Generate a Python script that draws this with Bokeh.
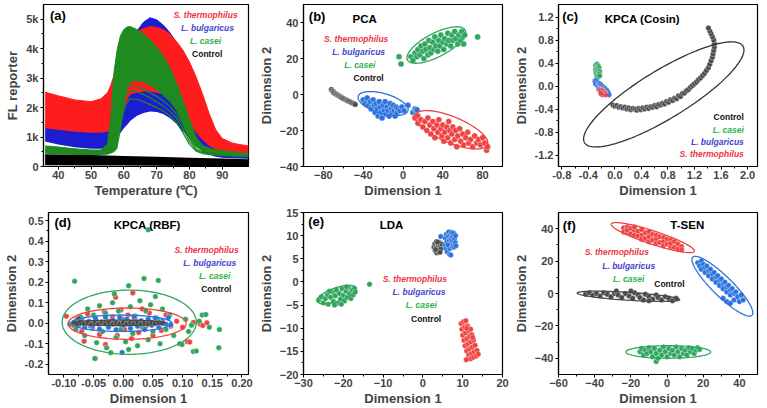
import numpy as np
from bokeh.plotting import figure
from bokeh.layouts import column, row
from bokeh.models import Label, FixedTicker, Range1d, NumeralTickFormatter
from bokeh.embed import file_html
from bokeh.resources import INLINE

# ---------------- DATA ----------------
species = ["S. thermophilus", "L. bulgaricus", "L. casei", "Control"]

# (a) melt curves: envelopes of the curve bundles (FL reporter vs temperature)
temp = [36, 40, 45, 50, 53, 55, 56, 57, 58, 59, 60, 61, 62, 64, 66, 68, 70, 72, 74, 76, 78, 80, 82, 84, 86, 88, 90, 93, 95, 98]
st_hi = [2520, 2400, 2260, 2200, 2300, 2500, 2750, 3100, 3500, 3800, 4050, 4250, 4400, 4550, 4680, 4750, 4720, 4650, 4500, 4250, 3950, 3550, 3050, 2450, 1800, 1250, 950, 800, 750, 700]
st_lo = [1300, 1250, 1180, 1150, 1150, 1180, 1220, 1300, 1450, 1700, 2000, 2250, 2450, 2500, 2550, 2550, 2500, 2450, 2350, 2150, 1850, 1450, 1150, 900, 700, 580, 500, 470, 450, 430]
lb_hi = [1420, 1360, 1300, 1260, 1280, 1400, 1700, 2200, 2800, 3300, 3700, 4000, 4250, 4600, 4900, 5050, 4980, 4800, 4550, 4200, 3800, 3300, 2700, 2000, 1400, 900, 600, 450, 400, 380]
lb_lo = [850, 750, 650, 600, 600, 620, 650, 800, 1000, 1150, 1300, 1420, 1550, 1720, 1820, 1870, 1850, 1780, 1650, 1450, 1200, 950, 700, 500, 400, 330, 300, 280, 270, 260]
lc_hi = [700, 660, 600, 560, 560, 760, 1600, 3200, 4000, 4450, 4650, 4740, 4750, 4650, 4500, 4300, 4050, 3750, 3350, 2850, 2250, 1600, 1000, 720, 620, 570, 540, 500, 470, 440]
lc_lo = [450, 440, 420, 410, 410, 420, 440, 480, 600, 1200, 2000, 2600, 2850, 2900, 2850, 2750, 2600, 2400, 2200, 1900, 1450, 950, 650, 520, 460, 430, 410, 390, 380, 370]
lc_low1 = [450, 440, 420, 410, 410, 430, 470, 600, 900, 1400, 1900, 2200, 2300, 2280, 2200, 2100, 2000, 1880, 1720, 1500, 1150, 750, 520, 440, 410, 390, 380, 360, 350, 340]
lc_low2 = [500, 480, 460, 450, 450, 480, 560, 800, 1300, 1900, 2300, 2500, 2560, 2540, 2450, 2330, 2200, 2050, 1880, 1650, 1300, 850, 560, 460, 420, 400, 390, 370, 360, 350]
lc_low3 = [560, 540, 520, 500, 500, 560, 700, 1100, 1700, 2200, 2550, 2700, 2750, 2720, 2620, 2500, 2380, 2230, 2050, 1800, 1420, 950, 600, 480, 440, 420, 400, 380, 370, 360]
ctrl_temp = [36, 50, 60, 70, 80, 90, 98]
ctrl_hi = [420, 390, 360, 330, 300, 270, 250]
ctrl_lo = [40, 35, 30, 25, 20, 15, 10]

# (b) PCA scores
pca_st = [(12,-13),(15,-16),(15,-12),(18,-14),(20,-18),(22,-15),(24,-20),(25,-13),(27,-17),(28,-22),(30,-15),(31,-19),(32,-24),(34,-17),(35,-21),(36,-14),(38,-19),(39,-23),(40,-17),(41,-26),(42,-21),(44,-18),(45,-24),(46,-15),(47,-20),(48,-27),(49,-22),(50,-18),(52,-25),(53,-20),(54,-29),(55,-23),(57,-19),(58,-26),(60,-22),(61,-28),(63,-24),(65,-21),(66,-27),(68,-25),(70,-29),(72,-23),(74,-27),(76,-25),(78,-28),(80,-24),(82,-27),(84,-31),(85,-29)]
pca_lb = [(-40,-3),(-38,-5),(-36,-2),(-35,-6),(-33,-4),(-32,-8),(-30,-3),(-29,-6),(-28,-10),(-27,-5),(-26,-8),(-25,-12),(-24,-4),(-23,-7),(-22,-10),(-21,-13),(-20,-6),(-19,-9),(-18,-4),(-17,-11),(-16,-7),(-15,-9),(-14,-12),(-13,-5),(-12,-8),(-11,-10),(-10,-6),(-9,-9),(-8,-12),(-7,-7),(-6,-10),(-5,-8),(-3,-9),(-1,-7),(1,-9),(5,-6),(10,-10),(12,-8),(13,-9),(14,-8.5),(13,-12)]
pca_lc = [(-4,21),(-2,17),(8,21),(10,19),(12,23),(14,21),(15,25),(17,22),(18,27),(20,24),(21,20),(22,28),(23,25),(25,22),(26,30),(27,26),(28,23),(30,29),(31,25),(32,32),(33,27),(35,24),(36,30),(37,27),(38,33),(40,29),(41,25),(42,31),(44,28),(45,34),(46,30),(48,27),(49,33),(50,30),(52,35),(53,31),(55,28),(56,33),(58,30),(59,35),(60,32),(62,33),(61,28),(75,32)]
pca_ctrl = [(-72,2.8),(-71,2.0),(-70,1.6),(-69.5,0.9),(-68,0.6),(-67,0.1),(-66,-0.3),(-65,-0.6),(-64,-0.8),(-63,-1.3),(-62,-1.5),(-61,-1.9),(-60,-2.2),(-58.5,-2.6),(-57,-3.0),(-56,-3.3),(-55,-3.6),(-53.5,-4.0),(-52,-4.4),(-50.5,-4.8),(-49,-5.2),(-48,-5.5)]
pca_ell = {"st": ((12.5,-11.3),(85,-27.9),0.33), "lb": ((-45,-1),(5,-9),0.38), "lc": ((4.5,19.2),(62.4,35.8),0.36)}

# (c) KPCA (Cosin) scores
kc_ctrl = [(-0.03,-0.33),(0.0,-0.35),(0.03,-0.34),(0.06,-0.37),(0.09,-0.36),(0.12,-0.38),(0.15,-0.37),(0.18,-0.40),(0.21,-0.38),(0.24,-0.41),(0.27,-0.39),(0.30,-0.40),(0.33,-0.42),(0.36,-0.39),(0.39,-0.41),(0.42,-0.38),(0.45,-0.40),(0.48,-0.37),(0.51,-0.39),(0.54,-0.36),(0.57,-0.37),(0.60,-0.34),(0.63,-0.36),(0.66,-0.32),(0.69,-0.33),(0.72,-0.30),(0.75,-0.31),(0.78,-0.27),(0.81,-0.28),(0.84,-0.24),(0.87,-0.25),(0.90,-0.21),(0.93,-0.22),(0.96,-0.17),(0.99,-0.18),(1.02,-0.13),(1.05,-0.12),(1.08,-0.08),(1.11,-0.06),(1.14,-0.02),(1.17,0.01),(1.20,0.04),(1.23,0.07),(1.26,0.11),(1.29,0.14),(1.32,0.18),(1.35,0.22),(1.38,0.27),(1.41,0.32),(1.43,0.38),(1.45,0.44),(1.47,0.50),(1.48,0.56),(1.49,0.62),(1.50,0.68),(1.50,0.74),(1.49,0.80),(1.47,0.86),(1.45,0.91),(1.43,0.96),(1.41,1.01)]
kc_lc = [(-0.29,0.36),(-0.27,0.38),(-0.25,0.35),(-0.28,0.32),(-0.26,0.30),(-0.24,0.32),(-0.29,0.28),(-0.27,0.26),(-0.25,0.27),(-0.23,0.25),(-0.28,0.22),(-0.26,0.20),(-0.24,0.21),(-0.27,0.17),(-0.25,0.16),(-0.23,0.18)]
kc_lb = [(-0.30,0.09),(-0.28,0.10),(-0.27,0.06),(-0.29,0.04),(-0.25,0.05),(-0.26,0.01),(-0.24,0.02),(-0.23,-0.01),(-0.22,0.03),(-0.21,-0.03),(-0.20,0.00),(-0.19,-0.05),(-0.18,-0.02),(-0.17,-0.07),(-0.16,-0.04),(-0.15,-0.09),(-0.14,-0.06),(-0.13,-0.11),(-0.12,-0.08),(-0.11,-0.13),(-0.10,-0.12),(-0.09,-0.15),(-0.24,-0.06),(-0.21,-0.10)]
kc_st = [(-0.23,-0.06),(-0.22,-0.09),(-0.21,-0.07),(-0.20,-0.11),(-0.19,-0.08),(-0.18,-0.13),(-0.17,-0.10),(-0.16,-0.14),(-0.15,-0.12),(-0.14,-0.15),(-0.19,-0.15),(-0.21,-0.13)]
kc_ell = {"ctrl": ((-0.457,-0.986),(1.931,0.695),0.26), "lb": ((-0.31,0.09),(-0.08,-0.16),0.35), "st": ((-0.24,-0.06),(-0.12,-0.16),0.4)}

# (d) KPCA (RBF) scores
kr_ctrl = [(-0.083,0.003),(-0.078,-0.004),(-0.075,0.022),(-0.072,0.006),(-0.066,-0.002),(-0.060,0.004),(-0.054,-0.005),(-0.048,0.002),(-0.042,-0.003),(-0.036,0.005),(-0.030,-0.001),(-0.024,0.003),(-0.018,-0.004),(-0.012,0.002),(-0.006,-0.002),(0.000,0.004),(0.006,-0.003),(0.012,0.002),(0.018,-0.001),(0.024,0.004),(0.030,-0.003),(0.036,0.002),(0.042,-0.002),(0.048,0.003),(0.054,-0.001),(0.060,0.002),(0.066,0.000)]
kr_lb = [(-0.080,0.005),(-0.075,-0.010),(-0.070,0.015),(-0.065,-0.020),(-0.058,0.010),(-0.052,-0.015),(-0.047,0.025),(-0.040,-0.028),(-0.035,0.005),(-0.030,0.030),(-0.025,-0.020),(-0.018,0.015),(-0.012,-0.032),(-0.006,0.028),(0.000,-0.010),(0.006,0.020),(0.012,-0.025),(0.018,0.032),(0.024,-0.015),(0.030,0.012),(0.036,-0.030),(0.042,0.020),(0.048,-0.010),(0.054,0.025),(0.060,-0.020),(0.066,0.010),(0.072,-0.005),(0.076,0.028),(0.080,-0.008),(-0.002,-0.143)]
kr_st = [(-0.096,0.034),(-0.085,-0.010),(-0.078,0.020),(-0.070,-0.040),(-0.066,-0.088),(-0.060,0.045),(-0.052,-0.025),(-0.045,0.010),(-0.047,-0.172),(-0.040,-0.055),(-0.032,0.055),(-0.030,-0.104),(-0.025,-0.015),(-0.018,0.030),(-0.013,0.127),(-0.010,-0.060),(-0.004,0.065),(0.002,-0.030),(0.008,0.040),(0.014,-0.075),(0.016,0.148),(0.020,0.020),(0.026,-0.045),(0.032,0.070),(0.038,-0.015),(0.044,0.050),(0.050,-0.060),(0.056,0.025),(0.064,-0.035),(0.072,0.040),(0.080,-0.015),(0.090,0.010),(0.100,-0.020),(0.108,-0.090),(0.112,-0.092),(0.118,0.004),(0.126,0.005),(0.130,-0.005),(0.134,-0.011),(0.141,0.002)]
kr_lc = [(-0.082,0.205),(-0.090,-0.005),(-0.080,-0.030),(-0.072,0.030),(-0.065,-0.060),(-0.060,0.070),(-0.055,-0.015),(-0.050,0.040),(-0.048,-0.172),(-0.045,-0.095),(-0.040,0.085),(-0.035,-0.040),(-0.030,0.050),(-0.028,-0.120),(-0.025,0.010),(-0.021,-0.144),(-0.018,0.100),(-0.015,0.143),(-0.012,-0.070),(-0.008,0.060),(-0.004,-0.030),(0.000,0.020),(0.004,-0.090),(0.009,0.183),(0.009,-0.128),(0.012,0.080),(0.016,-0.050),(0.020,0.035),(0.024,-0.110),(0.028,0.110),(0.032,-0.020),(0.035,0.218),(0.038,0.060),(0.042,0.456),(0.042,-0.080),(0.046,0.090),(0.050,-0.040),(0.054,0.130),(0.059,0.209),(0.058,0.020),(0.062,-0.100),(0.066,0.070),(0.072,-0.030),(0.078,0.040),(0.085,-0.060),(0.095,-0.100),(0.099,-0.104),(0.105,0.020),(0.110,-0.040),(0.115,-0.010),(0.118,-0.138),(0.123,-0.136),(0.128,0.010),(0.133,0.040),(0.139,0.042),(0.145,-0.020),(0.162,-0.031),(0.161,-0.120)]
kr_ell = {"lc": ((-0.103,0.005),(0.123,0.005),0.47), "st": ((-0.093,-0.002),(0.106,-0.002),0.26), "lb": ((-0.088,0.0),(0.082,0.0),0.16), "ctrl": ((-0.085,0.002),(0.071,0.002),0.057)}

# (e) LDA scores
lda_lc = [(-26.2,-3.9),(-25.5,-3.2),(-25.0,-4.5),(-24.5,-3.6),(-24.0,-2.8),(-23.8,-4.8),(-23.2,-3.3),(-22.8,-2.2),(-22.5,-4.2),(-22.0,-3.0),(-21.7,-1.8),(-21.5,-4.6),(-21.0,-2.5),(-20.7,-3.7),(-20.3,-1.5),(-20.0,-2.9),(-19.7,-4.1),(-19.3,-2.0),(-19.0,-3.3),(-18.7,-1.2),(-18.4,-2.5),(-18.1,-3.6),(-17.8,-1.7),(-17.5,-2.8),(-17.2,-1.4),(-17.0,-2.2),(-23.5,-2.0),(-22.2,-5.0),(-20.5,-4.8),(-19.2,-1.1),(-13.4,-0.5)]
lda_ctrl = [(2.8,7.5),(3.0,8.2),(3.1,6.8),(3.3,7.6),(3.4,8.7),(3.5,6.3),(3.6,7.2),(3.8,8.0),(3.9,6.6),(4.0,7.4),(4.1,8.5),(4.2,6.9),(4.4,7.8),(4.5,7.1),(4.7,8.2),(3.2,7.0),(3.7,8.6),(4.3,6.4)]
lda_lb = [(4.5,9.8),(5.5,8.0),(5.6,9.5),(5.8,7.2),(5.9,10.3),(6.0,8.6),(6.1,6.5),(6.3,9.9),(6.4,7.8),(6.5,10.8),(6.6,8.9),(6.7,6.0),(6.8,7.2),(6.9,10.1),(7.0,8.3),(7.1,9.4),(7.2,10.7),(7.3,7.6),(7.4,8.9),(7.5,9.9),(7.6,8.0),(7.7,10.5),(7.8,7.5),(7.9,9.2),(8.1,8.5),(8.2,10.0),(6.2,8.0),(7.0,5.8),(8.3,7.8)]
lda_st = [(9.6,-9.0),(10.2,-8.6),(10.8,-8.4),(9.8,-10.2),(10.5,-9.8),(11.2,-9.5),(10.0,-11.5),(10.7,-11.0),(11.4,-10.6),(12.0,-10.2),(10.3,-12.6),(11.0,-12.3),(11.7,-11.8),(12.3,-11.4),(10.6,-13.8),(11.3,-13.4),(12.0,-13.0),(12.7,-12.6),(11.0,-14.9),(11.7,-14.5),(12.4,-14.1),(13.1,-13.7),(11.5,-15.8),(12.2,-15.5),(12.9,-15.1),(13.6,-14.8),(12.0,-16.6),(12.7,-16.3),(13.4,-16.0),(10.9,-16.8),(13.9,-15.6),(11.0,-10.0),(12.5,-12.0)]
lda_ell = {"lc": ((-26.5,-4.2),(-16.8,-1.3),0.33)}

# (f) T-SEN scores
ts_st = [(-24,40.5),(-24,38.0),(-22,41.0),(-22,37.5),(-22,39.2),(-20,40.2),(-20,36.8),(-18,39.0),(-18,36.0),(-18,41.0),(-16,38.5),(-16,35.5),(-14,39.5),(-14,36.0),(-14,33.5),(-12,37.5),(-12,34.0),(-10,38.0),(-10,35.0),(-10,32.0),(-8,36.5),(-8,33.0),(-6,36.0),(-6,33.5),(-6,31.0),(-4,35.0),(-4,31.5),(-2,34.5),(-2,32.0),(-2,29.5),(0,33.5),(0,30.5),(2,33.0),(2,29.0),(2,31.0),(4,32.0),(4,28.5),(6,30.5),(6,27.5),(8,29.0),(8,27.0)]
ts_lb = [(17,19),(18,17),(19,20),(19,15),(20,18),(21,16),(21,13),(22,17),(23,14),(23,11),(24,15),(25,12),(25,9),(26,13),(27,10),(27,7),(28,11),(29,8),(29,5),(30,9),(31,6),(31,3),(32,7),(33,4),(33,1),(34,5),(35,2),(35,-1),(36,3),(37,0),(37,-4),(38,1),(39,-2),(40,-5),(41,-1),(42,-4),(33,-5),(35,-6),(31,-3)]
ts_ctrl = [(-45,-0.5),(-43,0.5),(-41,-1),(-39,0),(-37,-1.5),(-35,0.5),(-33,-0.5),(-31,-2),(-29,0),(-28,1.5),(-27,-1),(-25,-2.5),(-23,0),(-21,-1.5),(-19,-3),(-18,0.5),(-16,-1),(-15,-2.5),(-13,-4),(-12,-0.5),(-10,-2),(-8,-3.5),(-6,-1),(-5,-2.5),(-3,-4),(-1,-2),(1,-3),(3,-4.5),(5,-3),(-20,1.5),(-10,-4.5)]
ts_lc = [(-15,-36),(-14,-34),(-13,-38),(-12,-35),(-11,-37),(-10,-33.5),(-9,-36),(-8,-39),(-7,-34),(-6,-37),(-6,-42),(-5,-40),(-4,-35),(-3,-38),(-2,-33),(-1,-36),(0,-39),(1,-34),(2,-37),(3,-35),(4,-38),(5,-33),(6,-36),(7,-39),(8,-34),(9,-37),(10,-35),(11,-38),(12,-33.5),(13,-36),(14,-34),(15,-37),(16,-35),(17,-33.5),(18,-34.5)]
ts_ell = {"st": ((-30.8,42.9),(15.1,26.1),0.15), "lb": ((14.2,22.4),(47.0,-13.4),0.24), "ctrl": ((-49.7,0.3),(7.0,-3.8),0.075), "lc": ((-22.7,-36.1),(24.1,-36.1),0.145)}

# ---------------- STYLE ----------------
FONT = "Liberation Sans"
RED, BLUE, GREEN, GRAY = "#ef4343", "#2a72dc", "#2fa65c", "#4a4a4a"
T_RED, T_BLUE, T_GREEN, T_BLACK = "#ec3444", "#4444d0", "#2eb24a", "#111111"
A_RED, A_BLUE, A_GREEN = "#ff1c1c", "#1c1cd0", "#1f8a1f"

FRAMES = {}


def mk(w, h, l, r, t, b, xr, yr, xt, yt, xl, yl, xfmt=None, yfmt=None, yover=None):
    p = figure(width=w, height=h, x_range=Range1d(*xr), y_range=Range1d(*yr),
               output_backend="svg", toolbar_location=None,
               min_border_left=l, min_border_right=r, min_border_top=t, min_border_bottom=b)
    FRAMES[p.id] = (w - l - r, h - t - b)
    p.xgrid.visible = False
    p.ygrid.visible = False
    p.outline_line_color = "black"
    p.outline_line_width = 1.2
    p.outline_line_alpha = 1
    for ax, ticks, lab in ((p.xaxis[0], xt, xl), (p.yaxis[0], yt, yl)):
        minor = [(a + b2) / 2 for a, b2 in zip(ticks, ticks[1:])]
        ax.ticker = FixedTicker(ticks=ticks, minor_ticks=minor)
        ax.axis_label = lab
        ax.axis_label_text_font = FONT
        ax.axis_label_text_font_style = "bold"
        ax.axis_label_text_font_size = "13px"
        ax.major_label_text_font = FONT
        ax.major_label_text_font_style = "bold"
        ax.major_label_text_font_size = "11px"
        ax.major_tick_in = 0
        ax.major_tick_out = 3
        ax.minor_tick_in = 0
        ax.minor_tick_out = 2
        ax.axis_line_width = 1.2
        ax.major_label_standoff = 1
        ax.axis_label_standoff = 1
    p.yaxis[0].major_label_standoff = 2
    p.yaxis[0].axis_label_standoff = 3
    if xfmt:
        p.xaxis[0].formatter = NumeralTickFormatter(format=xfmt)
    if yfmt:
        p.yaxis[0].formatter = NumeralTickFormatter(format=yfmt)
    if yover:
        p.yaxis[0].major_label_overrides = yover
    return p


def txt(p, x, y, s, color="black", size="8.5px", style="bold italic", align="center"):
    p.add_layout(Label(x=x, y=y, text=s, text_color=color, text_font=FONT, text_font_size=size,
                       text_font_style=style, text_align=align, text_baseline="middle"))


def legend(p, pos, align="center"):
    cols = [T_RED, T_BLUE, T_GREEN, T_BLACK]
    styles = ["bold italic", "bold italic", "bold italic", "bold"]
    for (x, y), s, c, st in zip(pos, species, cols, styles):
        txt(p, x, y, s, c, style=st, align=align)


def pts(p, data, color, size=5.5):
    xs = [d[0] for d in data]
    ys = [d[1] for d in data]
    p.scatter(xs, ys, size=size, fill_color=color, line_color="white", line_width=0.5, line_alpha=0.7)


def ell(p, e, color, lw=1.3):
    (x1, y1), (x2, y2), ratio = e
    fw, fh = FRAMES[p.id]
    sx = fw / (p.x_range.end - p.x_range.start)
    sy = fh / (p.y_range.end - p.y_range.start)
    px1, py1, px2, py2 = x1 * sx, y1 * sy, x2 * sx, y2 * sy
    cx, cy = (px1 + px2) / 2, (py1 + py2) / 2
    ux, uy = (px2 - px1) / 2, (py2 - py1) / 2
    vx, vy = -uy * ratio, ux * ratio
    t = np.linspace(0, 2 * np.pi, 160)
    xs = (cx + ux * np.cos(t) + vx * np.sin(t)) / sx
    ys = (cy + uy * np.cos(t) + vy * np.sin(t)) / sy
    p.line(xs, ys, line_color=color, line_width=lw)


# ---------------- (a) ----------------
pa = mk(255, 200, 43, 7, 4, 31, (35.5, 98), (0, 5500), [40, 50, 60, 70, 80, 90],
        [0, 1000, 2000, 3000, 4000, 5000], "Temperature (\u2103)", "FL reporter",
        yover={0: "0", 1000: "1k", 2000: "2k", 3000: "3k", 4000: "4k", 5000: "5k"})
pa.varea(x=temp, y1=lb_lo, y2=lb_hi, fill_color=A_BLUE)
pa.line(temp, lb_hi, line_color=A_BLUE, line_width=1)
pa.varea(x=temp, y1=st_lo, y2=st_hi, fill_color=A_RED)
pa.line(temp, st_hi, line_color=A_RED, line_width=1)
for c in (lc_low1, lc_low2, lc_low3):
    pa.line(temp, c, line_color=A_GREEN, line_width=1.2)
pa.varea(x=temp, y1=lc_lo, y2=lc_hi, fill_color=A_GREEN)
pa.line(temp, lc_hi, line_color=A_GREEN, line_width=1)
pa.varea(x=ctrl_temp, y1=ctrl_lo, y2=ctrl_hi, fill_color="black")
txt(pa, 39.9, 5123, "(a)", size="13px", style="bold")
legend(pa, [(84.9, 5133), (85.5, 4700), (84.9, 4267), (85.4, 3833)])

# ---------------- (b) ----------------
pb = mk(255, 200, 42, 8, 4, 31, (-100, 100), (-40, 50), [-80, -40, 0, 40, 80],
        [-40, -20, 0, 20, 40], "Dimension 1", "Dimension 2")
pts(pb, pca_ctrl, GRAY)
pts(pb, pca_lb, BLUE, 6)
pts(pb, pca_st, RED, 6)
pts(pb, pca_lc, GREEN, 6)
ell(pb, pca_ell["lb"], BLUE)
ell(pb, pca_ell["st"], RED)
ell(pb, pca_ell["lc"], GREEN)
txt(pb, -86.3, 43.5, "(b)", size="13px", style="bold")
txt(pb, -38.5, 42.2, "PCA", size="11.5px", style="bold")
legend(pb, [(-47.0, 30.7), (-44.6, 23.7), (-43.4, 16.3), (-34.6, 8.9)])

# ---------------- (c) ----------------
pc = mk(257, 200, 43, 10, 4, 31, (-0.85, 2.15), (-1.4, 1.42),
        [-0.8, -0.4, 0.0, 0.4, 0.8, 1.2, 1.6, 2.0], [-1.2, -0.8, -0.4, 0.0, 0.4, 0.8, 1.2],
        "Dimension 1", "Dimension 2", xfmt="0.0", yfmt="0.0")
pts(pc, kc_ctrl, GRAY)
pts(pc, kc_lc, GREEN)
pts(pc, kc_lb, BLUE)
pts(pc, kc_st, RED)
ell(pc, kc_ell["ctrl"], "#333333")
ell(pc, kc_ell["lb"], BLUE, lw=1)
ell(pc, kc_ell["st"], RED, lw=1)
txt(pc, -0.674, 1.215, "(c)", size="13px", style="bold")
txt(pc, 0.415, 1.176, "KPCA (Cosin)", size="11.5px", style="bold")
lx = 1.944
for (y, s, c, st) in zip([-1.19, -0.973, -0.763, -0.545], species,
                         [T_RED, T_BLUE, T_GREEN, T_BLACK],
                         ["bold italic", "bold italic", "bold italic", "bold"]):
    txt(pc, lx, y, s, c, style=st, align="right")

# ---------------- (d) ----------------
pd_ = mk(255, 208, 43, 7, 12, 33, (-0.126, 0.211), (-0.25, 0.54),
         [-0.10, -0.05, 0.0, 0.05, 0.10, 0.15, 0.20], [-0.2, -0.1, 0.0, 0.1, 0.2, 0.3, 0.4, 0.5],
         "Dimension 1", "Dimension 2", xfmt="0.00", yfmt="0.0")
pts(pd_, kr_st, RED)
pts(pd_, kr_lc, GREEN)
pts(pd_, kr_lb, BLUE)
pts(pd_, kr_ctrl, GRAY)
ell(pd_, kr_ell["lc"], GREEN)
ell(pd_, kr_ell["st"], RED)
ell(pd_, kr_ell["lb"], BLUE)
ell(pd_, kr_ell["ctrl"], GRAY)
txt(pd_, -0.102, 0.489, "(d)", size="13px", style="bold")
txt(pd_, 0.0405, 0.477, "KPCA (RBF)", size="11.5px", style="bold")
legend(pd_, [(0.1403, 0.356), (0.1457, 0.296), (0.154, 0.230), (0.1568, 0.165)])

# ---------------- (e) ----------------
pe = mk(255, 208, 42, 8, 12, 33, (-30, 20), (-20, 15), [-30, -20, -10, 0, 10, 20],
        [-20, -15, -10, -5, 0, 5, 10, 15], "Dimension 1", "Dimension 2")
pts(pe, lda_lc, GREEN)
ell(pe, lda_ell["lc"], GREEN)
pts(pe, lda_ctrl, GRAY)
pts(pe, lda_lb, BLUE)
pts(pe, lda_st, RED)
txt(pe, -26.8, 13.07, "(e)", size="13px", style="bold")
txt(pe, -7.88, 12.36, "LDA", size="11.5px", style="bold")
legend(pe, [(-2.02, 0.61), (-0.98, -2.11), (-0.41, -4.97), (0.81, -7.97)])

# ---------------- (f) ----------------
pf = mk(257, 208, 43, 10, 12, 33, (-60, 50), (-50, 50), [-60, -40, -20, 0, 20, 40],
        [-40, -20, 0, 20, 40], "Dimension 1", "Dimension 2")
pts(pf, ts_st, RED)
pts(pf, ts_lb, BLUE)
pts(pf, ts_ctrl, GRAY)
pts(pf, ts_lc, GREEN)
ell(pf, ts_ell["st"], RED)
ell(pf, ts_ell["lb"], BLUE)
ell(pf, ts_ell["ctrl"], GRAY)
ell(pf, ts_ell["lc"], GREEN)
txt(pf, -54.07, 42.0, "(f)", size="13px", style="bold")
txt(pf, 11.2, 42.0, "T-SEN", size="11.5px", style="bold")
legend(pf, [(-27.8, 25.6), (-21.2, 17.1), (-21.2, 8.9), (1.3, 5.6)])

layout = column(row(pa, pb, pc), row(pd_, pe, pf))
open("out.html", "w").write(file_html(layout, INLINE))
